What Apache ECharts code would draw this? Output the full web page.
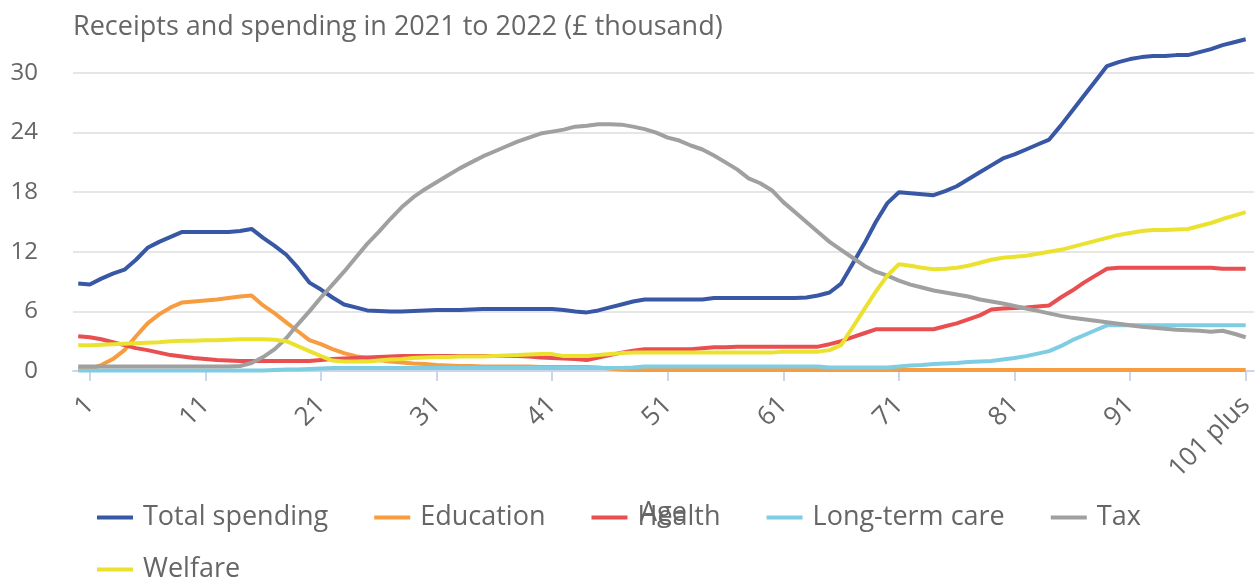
<!DOCTYPE html>
<html>
<head>
<meta charset="utf-8">
<script src="https://cdn.jsdelivr.net/npm/echarts@6/dist/echarts.min.js"></script>
<style>
html,body{margin:0;padding:0;background:#fff;}
#chart{width:1257px;height:581px;}
</style>
</head>
<body>
<div id="chart"></div>
<script>
const ages = [
  0,1,2,3,4,5,6,7,8,9,
  10,11,12,13,14,15,16,17,18,19,
  20,21,22,23,24,25,26,27,28,29,
  30,31,32,33,34,35,36,37,38,39,
  40,41,42,43,44,45,46,47,48,49,
  50,51,52,53,54,55,56,57,58,59,
  60,61,62,63,64,65,66,67,68,69,
  70,71,72,73,74,75,76,77,78,79,
  80,81,82,83,84,85,86,87,88,89,
  90,91,92,93,94,95,96,97,98,99,
  100,101
];
const tickAges = [1,11,21,31,41,51,61,71,81,91,101];
const tickLabels = ['1','11','21','31','41','51','61','71','81','91','101 plus'];
const yTicks = [0,6,12,18,24,30];

const totalSpending = [
  8.8,8.7,9.3,9.8,10.2,11.2,12.4,13.0,13.5,14.0,
  14.0,14.0,14.0,14.0,14.1,14.3,13.4,12.6,11.7,10.4,
  8.9,8.2,7.4,6.7,6.4,6.1,6.05,6.0,6.0,6.05,
  6.1,6.15,6.15,6.15,6.2,6.25,6.25,6.25,6.25,6.25,
  6.25,6.25,6.15,6.0,5.9,6.1,6.4,6.7,7.0,7.2,
  7.2,7.2,7.2,7.2,7.2,7.35,7.35,7.35,7.35,7.35,
  7.35,7.35,7.35,7.4,7.6,7.9,8.8,10.8,12.8,15.0,
  16.9,18.0,17.9,17.8,17.7,18.1,18.6,19.3,20.0,20.7,
  21.4,21.8,22.3,22.8,23.3,24.7,26.2,27.7,29.2,30.7,
  31.1,31.4,31.6,31.7,31.7,31.8,31.8,32.1,32.4,32.8,
  33.1,33.4
];
const education = [
  0.2,0.2,0.6,1.2,2.1,3.5,4.8,5.7,6.4,6.9,
  7.0,7.1,7.2,7.35,7.5,7.6,6.6,5.8,4.9,4.0,
  3.1,2.7,2.2,1.8,1.5,1.3,1.1,0.95,0.85,0.75,
  0.7,0.6,0.55,0.5,0.5,0.45,0.45,0.45,0.45,0.45,
  0.4,0.4,0.4,0.4,0.4,0.35,0.25,0.15,0.1,0.1,
  0.1,0.1,0.1,0.1,0.1,0.1,0.1,0.1,0.1,0.1,
  0.1,0.1,0.1,0.1,0.1,0.1,0.1,0.1,0.1,0.1,
  0.1,0.1,0.1,0.1,0.1,0.1,0.1,0.1,0.1,0.1,
  0.1,0.1,0.1,0.1,0.1,0.1,0.1,0.1,0.1,0.1,
  0.1,0.1,0.1,0.1,0.1,0.1,0.1,0.1,0.1,0.1,
  0.1,0.1
];
const health = [
  3.5,3.4,3.2,2.9,2.6,2.3,2.1,1.85,1.6,1.45,
  1.3,1.2,1.1,1.05,1.0,1.0,1.0,1.0,1.0,1.0,
  1.0,1.1,1.2,1.25,1.3,1.35,1.4,1.45,1.5,1.5,
  1.5,1.5,1.5,1.5,1.5,1.5,1.5,1.5,1.5,1.45,
  1.35,1.3,1.25,1.2,1.1,1.35,1.6,1.85,2.05,2.2,
  2.2,2.2,2.2,2.2,2.3,2.4,2.4,2.45,2.45,2.45,
  2.45,2.45,2.45,2.45,2.45,2.7,3.0,3.4,3.8,4.2,
  4.2,4.2,4.2,4.2,4.2,4.5,4.8,5.2,5.6,6.2,
  6.3,6.35,6.4,6.5,6.6,7.4,8.1,8.9,9.6,10.3,
  10.4,10.4,10.4,10.4,10.4,10.4,10.4,10.4,10.4,10.3,
  10.3,10.3
];
const longTermCare = [
  0.05,0.05,0.05,0.05,0.05,0.05,0.05,0.05,0.05,0.05,
  0.05,0.05,0.05,0.05,0.05,0.05,0.05,0.1,0.15,0.15,
  0.2,0.25,0.3,0.3,0.3,0.3,0.3,0.3,0.3,0.3,
  0.3,0.3,0.3,0.3,0.3,0.3,0.3,0.3,0.3,0.3,
  0.3,0.3,0.3,0.3,0.3,0.3,0.3,0.3,0.35,0.45,
  0.45,0.45,0.45,0.45,0.45,0.45,0.45,0.45,0.45,0.45,
  0.45,0.45,0.45,0.45,0.45,0.35,0.35,0.35,0.35,0.35,
  0.35,0.45,0.55,0.6,0.7,0.75,0.8,0.9,0.95,1.0,
  1.15,1.3,1.5,1.75,2.0,2.5,3.1,3.6,4.1,4.6,
  4.6,4.6,4.6,4.6,4.6,4.6,4.6,4.6,4.6,4.6,
  4.6,4.6
];
const tax = [
  0.45,0.45,0.45,0.45,0.45,0.45,0.45,0.45,0.45,0.45,
  0.45,0.45,0.45,0.45,0.5,0.8,1.4,2.2,3.3,4.7,
  6.0,7.4,8.7,10.0,11.4,12.8,14.0,15.3,16.5,17.5,
  18.3,19.0,19.7,20.4,21.0,21.6,22.1,22.6,23.1,23.5,
  23.9,24.1,24.3,24.6,24.7,24.85,24.85,24.8,24.6,24.35,
  24.0,23.5,23.2,22.7,22.3,21.7,21.0,20.3,19.4,18.9,
  18.2,17.0,16.0,15.0,14.0,13.0,12.2,11.4,10.6,10.0,
  9.6,9.1,8.7,8.4,8.1,7.9,7.7,7.5,7.2,7.0,
  6.8,6.55,6.3,6.05,5.8,5.55,5.35,5.2,5.05,4.9,
  4.75,4.6,4.45,4.35,4.25,4.15,4.1,4.05,3.95,4.05,
  3.75,3.4
];
const welfare = [
  2.6,2.6,2.65,2.7,2.75,2.8,2.85,2.9,3.0,3.05,
  3.05,3.1,3.1,3.15,3.2,3.2,3.2,3.15,3.0,2.5,
  2.0,1.5,1.05,0.95,0.95,0.95,1.05,1.15,1.2,1.3,
  1.35,1.4,1.4,1.45,1.45,1.45,1.5,1.55,1.6,1.65,
  1.7,1.7,1.5,1.5,1.5,1.6,1.7,1.8,1.85,1.85,
  1.85,1.85,1.85,1.85,1.85,1.85,1.85,1.85,1.85,1.85,
  1.85,1.95,1.95,1.95,1.95,2.1,2.6,4.4,6.2,8.0,
  9.6,10.75,10.6,10.4,10.25,10.3,10.4,10.6,10.9,11.2,
  11.4,11.5,11.6,11.8,12.0,12.2,12.5,12.8,13.1,13.4,
  13.7,13.9,14.1,14.2,14.2,14.25,14.3,14.6,14.9,15.3,
  15.65,16.0
];

const seriesNames = ['Total spending','Education','Health','Long-term care','Tax','Welfare'];
const seriesValues = [totalSpending, education, health, longTermCare, tax, welfare];
const seriesColors = ['#3857a4','#f89c40','#e94f51','#7fcde3','#a0a0a0','#ebe22f'];

const FONT = '"Open Sans", "Noto Sans", sans-serif';
const TXT = '#666666';

const chart = echarts.init(document.getElementById('chart'), null, {renderer: 'canvas'});
chart.setOption({
  animation: false,
  backgroundColor: '#ffffff',
  textStyle: {fontFamily: FONT},
  title: {
    text: 'Receipts and spending in 2021 to 2022 (£ thousand)',
    left: 68, top: 9,
    textStyle: {fontFamily: FONT, fontSize: 27, fontWeight: 'normal', color: TXT}
  },
  legend: [
    {
      data: seriesNames.slice(0, 5),
      left: 92, top: 499,
      icon: 'rect', itemWidth: 36, itemHeight: 4, itemGap: 46,
      textStyle: {fontFamily: FONT, fontSize: 27, color: TXT, padding: [0,0,0,5]}
    },
    {
      data: seriesNames.slice(5),
      left: 92, top: 551,
      icon: 'rect', itemWidth: 36, itemHeight: 4, itemGap: 46,
      textStyle: {fontFamily: FONT, fontSize: 27, color: TXT, padding: [0,0,0,5]}
    }
  ],
  grid: {left: 73, right: 2, top: 73, bottom: 210, containLabel: false},
  xAxis: {
    type: 'value',
    min: -0.45, max: 101.7,
    name: 'Age', nameLocation: 'middle', nameGap: 129,
    nameTextStyle: {fontFamily: FONT, fontSize: 27, color: TXT},
    axisLine: {show: true, lineStyle: {color: '#ccd6eb', width: 2}},
    axisTick: {show: true, customValues: tickAges, length: 10, lineStyle: {color: '#ccd6eb', width: 2}},
    axisLabel: {
      customValues: tickAges,
      rotate: 45, margin: 30,
      fontFamily: FONT, fontSize: 26, color: TXT,
      formatter: function (v) { const i = tickAges.indexOf(Math.round(v)); return i >= 0 ? tickLabels[i] : ''; }
    },
    splitLine: {show: false}
  },
  yAxis: {
    type: 'value', min: 0, max: 30, interval: 6,
    axisLine: {show: false}, axisTick: {show: false},
    axisLabel: {margin: 35, fontFamily: FONT, fontSize: 24, color: TXT,
      formatter: function (v) { return yTicks.indexOf(v) >= 0 ? String(v) : ''; }},
    splitLine: {show: true, lineStyle: {color: '#e6e6e6', width: 2}}
  },
  series: seriesNames.map(function (name, k) {
    return {
      name: name, type: 'line', clip: false,
      showSymbol: false, symbol: 'none',
      color: seriesColors[k],
      lineStyle: {color: seriesColors[k], width: 4},
      data: ages.map(function (a, i) { return [a, seriesValues[k][i]]; })
    };
  })
});
</script>
</body>
</html>
